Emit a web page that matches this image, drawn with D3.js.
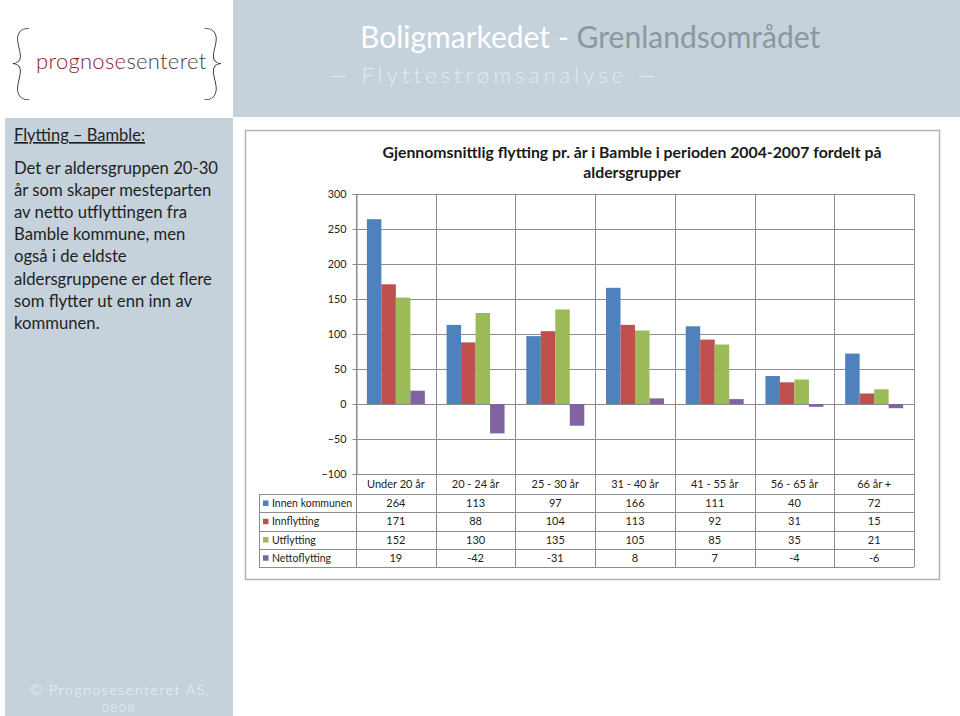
<!DOCTYPE html>
<html>
<head>
<meta charset="utf-8">
<script src="https://cdn.jsdelivr.net/npm/d3@7"></script>
<style>
  body { margin: 0; background: #fff; }
  svg { display: block; font-family: Lato, "Open Sans", sans-serif; }
</style>
</head>
<body>
<svg id="slide" width="960" height="716"></svg>
<script>
// data
var categories = ["Under 20 år", "20 - 24 år", "25 - 30 år", "31 - 40 år", "41 - 55 år", "56 - 65 år", "66 år +"];
var seriesNames = ["Innen kommunen", "Innflytting", "Utflytting", "Nettoflytting"];
var innenKommunen = [264, 113, 97, 166, 111, 40, 72];
var innflytting = [171, 88, 104, 113, 92, 31, 15];
var utflytting = [152, 130, 135, 105, 85, 35, 21];
var nettoflytting = [19, -42, -31, 8, 7, -4, -6];
var yTicks = [-100, -50, 0, 50, 100, 150, 200, 250, 300];
var colors = ["#4f81bd", "#c0504d", "#9bbb59", "#8064a2"];

var seriesValues = [innenKommunen, innflytting, utflytting, nettoflytting];

var svg = d3.select('#slide');

// ---- slide decoration ----
var bandColor = "#c5d1db";
svg.append('rect').attr('x', 233).attr('y', 0).attr('width', 727).attr('height', 117).attr('fill', bandColor);
svg.append('rect').attr('x', 5).attr('y', 118).attr('width', 228).attr('height', 598).attr('fill', bandColor);

// logo
var logo = svg.append('g');
logo.append('text').attr('x', 9).attr('y', 90).attr('font-size', 82).attr('font-weight', 100)
  .attr('fill', '#333').text('{');
logo.append('text').attr('x', 201).attr('y', 90).attr('font-size', 82).attr('font-weight', 100)
  .attr('fill', '#333').text('}');
var logoText = logo.append('text').attr('x', 36).attr('y', 69).attr('font-size', 22).attr('font-weight', 300)
  .attr('letter-spacing', 0.3);
logoText.append('tspan').attr('fill', '#8c1c3e').text('prognose');
logoText.append('tspan').attr('fill', '#444').text('senteret');

// slide title
var t = svg.append('text').attr('x', 360).attr('y', 48).attr('font-size', 30);
t.append('tspan').attr('fill', '#ffffff').text('Boligmarkedet - ');
t.append('tspan').attr('fill', '#8d979f').text(' Grenlandsområdet');
svg.append('text').attr('x', 330).attr('y', 83).attr('font-size', 22).attr('font-weight', 300)
  .attr('fill', '#e4eaef').attr('letter-spacing', 4.1)
  .text('— Flyttestrømsanalyse —');

// left text panel
svg.append('text').attr('x', 14).attr('y', 141).attr('font-size', 16.5).attr('fill', '#1f1f1f')
  .attr('text-decoration', 'underline').text('Flytting – Bamble:');
var para = ["Det er aldersgruppen 20-30", "år som skaper mesteparten", "av netto utflyttingen fra",
  "Bamble kommune, men", "også i de eldste", "aldersgruppene er det flere",
  "som flytter ut enn inn av", "kommunen."];
svg.append('g').selectAll('text').data(para).enter().append('text')
  .attr('x', 14).attr('y', (d, i) => 174 + i * 22.1)
  .attr('font-size', 16.7).attr('fill', '#1f1f1f').text(d => d);

svg.append('text').attr('x', 30).attr('y', 695).attr('font-size', 14.5).attr('font-weight', 300)
  .attr('fill', '#eef2f5').attr('letter-spacing', 1.4).text('©  Prognosesenteret  AS,');
svg.append('text').attr('x', 102).attr('y', 712).attr('font-size', 12).attr('font-weight', 300)
  .attr('fill', '#eef2f5').attr('letter-spacing', 1.5).text('0808');

// ---- chart ----
svg.append('rect').attr('x', 245.5).attr('y', 130.5).attr('width', 694).attr('height', 449)
  .attr('fill', '#fff').attr('stroke', '#b3b3b3').attr('stroke-width', 1.5);

svg.append('text').attr('x', 632).attr('y', 158).attr('text-anchor', 'middle')
  .attr('font-size', 15.8).attr('font-weight', 'bold').attr('fill', '#1a1a1a')
  .text('Gjennomsnittlig flytting pr. år i Bamble i perioden 2004-2007 fordelt på');
svg.append('text').attr('x', 632).attr('y', 178).attr('text-anchor', 'middle')
  .attr('font-size', 15.8).attr('font-weight', 'bold').attr('fill', '#1a1a1a')
  .text('aldersgrupper');

const plotLeft = 356, plotRight = 914, plotTop = 194, plotBottom = 474;
const tableLeft = 259, rowH = 18.25, headerBottom = 494;
const gridColor = '#8c8c8c';

const xScale = d3.scaleBand().domain(categories).range([plotLeft, plotRight]).paddingInner(0).paddingOuter(0);
const xInner = d3.scaleBand().domain(seriesNames).range([0, xScale.bandwidth()]).paddingInner(0).paddingOuter(0.75);
const yScale = d3.scaleLinear().domain([-100, 300]).range([plotBottom, plotTop]);

const chart = svg.append('g');

// horizontal grid lines
chart.append('g').selectAll('line').data(yTicks).enter().append('line')
  .attr('x1', plotLeft).attr('x2', plotRight)
  .attr('y1', d => Math.round(yScale(d)) + 0.5).attr('y2', d => Math.round(yScale(d)) + 0.5)
  .attr('stroke', gridColor).attr('stroke-width', 1);

// vertical lines: category borders, down through the table
var borders = categories.map(c => xScale(c)).concat([plotRight]);
chart.append('g').selectAll('line').data(borders).enter().append('line')
  .attr('x1', d => Math.round(d) + 0.5).attr('x2', d => Math.round(d) + 0.5)
  .attr('y1', plotTop).attr('y2', headerBottom + rowH * 4)
  .attr('stroke', gridColor).attr('stroke-width', 1);

// y axis
const yAxis = chart.append('g')
  .attr('transform', `translate(${plotLeft + 0.5},0)`)
  .call(d3.axisLeft(yScale).tickValues(yTicks).tickSize(4).tickPadding(6));
yAxis.select('.domain').attr('stroke', gridColor);
yAxis.selectAll('.tick line').attr('stroke', gridColor);
yAxis.selectAll('.tick text').attr('font-size', 10.8).attr('font-family', 'Lato, sans-serif').attr('fill', '#222');

// bars
seriesNames.forEach(function (name, s) {
  chart.append('g').selectAll('rect').data(seriesValues[s]).enter().append('rect')
    .attr('x', (d, i) => xScale(categories[i]) + xInner(name))
    .attr('width', xInner.bandwidth())
    .attr('y', d => yScale(Math.max(0, d)))
    .attr('height', d => Math.abs(yScale(d) - yScale(0)))
    .attr('fill', colors[s]);
});

// data table
const table = svg.append('g').attr('font-size', 11).attr('fill', '#222');
table.selectAll('.cat').data(categories).enter().append('text')
  .attr('x', d => xScale(d) + xScale.bandwidth() / 2).attr('y', 488)
  .attr('text-anchor', 'middle').text(d => d);

for (let r = 0; r <= 4; r++) {
  const yy = Math.round(headerBottom + r * rowH) + 0.5;
  table.append('line').attr('x1', tableLeft).attr('x2', plotRight).attr('y1', yy).attr('y2', yy)
    .attr('stroke', gridColor);
}
table.append('line').attr('x1', tableLeft + 0.5).attr('x2', tableLeft + 0.5)
  .attr('y1', headerBottom).attr('y2', headerBottom + rowH * 4).attr('stroke', gridColor);

seriesNames.forEach(function (name, s) {
  const rowY = headerBottom + s * rowH;
  table.append('rect').attr('x', 263).attr('y', rowY + 6.5).attr('width', 5.5).attr('height', 5.5)
    .attr('fill', colors[s]);
  table.append('text').attr('x', 272).attr('y', rowY + 13).attr('font-size', 10.5).text(name);
  table.append('g').selectAll('text').data(seriesValues[s]).enter().append('text')
    .attr('x', (d, i) => xScale(categories[i]) + xScale.bandwidth() / 2)
    .attr('y', rowY + 13).attr('text-anchor', 'middle').text(d => d);
});
</script>
</body>
</html>
